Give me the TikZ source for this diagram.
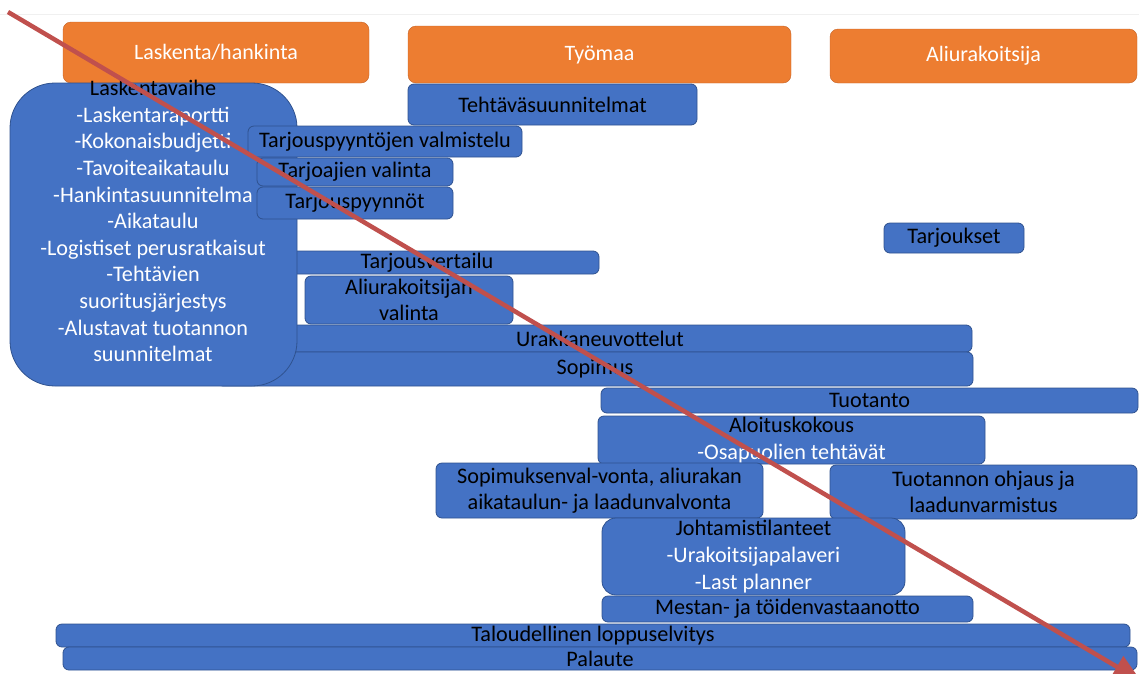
\documentclass[tikz,border=0pt]{standalone}
\usepackage{fontspec}
\setmainfont{Carlito}
\usepackage{xcolor}
\usepackage{tikz}
\usetikzlibrary{arrows.meta}

\definecolor{orfill}{RGB}{237,125,49}
\definecolor{orline}{RGB}{196,98,38}
\definecolor{blfill}{RGB}{68,114,196}
\definecolor{blline}{RGB}{47,82,143}
\definecolor{nuolipun}{RGB}{192,80,77}

\begin{document}
\begin{tikzpicture}[x=1pt, y=-1pt,
  head/.style={rectangle, rounded corners=8pt, draw=orline, fill=orfill, text=white, inner sep=0pt, font=\fontsize{22}{26}\selectfont},
  task/.style={rectangle, rounded corners=6pt, draw=blline, line width=0.8pt, fill=blfill, inner sep=0pt, align=center, font=\fontsize{22.2}{26.6}\selectfont},
  lista/.style={align=center, text=white, inner sep=0pt, font=\fontsize{22.2}{26.6}\selectfont},
  nuoli/.style={line width=4.5pt, draw=nuolipun, -{Triangle[length=28pt, width=24pt]}}
]
  \useasboundingbox (0,0) rectangle (1139,673);
  \coordinate (reunaA) at (0,14);
  \coordinate (reunaB) at (1139,14);
  \draw[gray!12, line width=0.8pt] (reunaA) -- (reunaB);

  % otsikot
  \node[head, minimum width=306pt, minimum height=61pt] (laskenta) at (216,52.5) {Laskenta/hankinta};
  \node[head, minimum width=383pt, minimum height=57pt] (tyomaa) at (599.5,54.5) {Työmaa};
  \node[head, minimum width=307pt, minimum height=54pt] (aliur) at (983.5,56) {Aliurakoitsija};

  % pitkät palkit iso laatikon alla
  \node[task, minimum width=344pt, minimum height=23pt] (tvert) at (427,262.5) {Tarjousvertailu};
  \node[task, minimum width=744pt, minimum height=27pt] (uneuv) at (600,338.5) {Urakkaneuvottelut};
  \node[task, minimum width=756pt, minimum height=34pt] (sopim) at (595,369) {Sopimus};

  % laskentavaihe
  \node[task, rounded corners=45pt, minimum width=287pt, minimum height=303pt] (lvaihe) at (153.5,234.5) {};
  \node[lista] (lvteksti) at (153,221) {\textcolor{black}{Laskentavaihe}\\-Laskentaraportti\\-Kokonaisbudjetti\\-Tavoiteaikataulu\\-Hankintasuunnitelma\\-Aikataulu\\-Logistiset perusratkaisut\\-Tehtävien\\suoritusjärjestys\\-Alustavat tuotannon\\suunnitelmat};

  % hankinta
  \node[task, minimum width=289pt, minimum height=41pt] (tsuun) at (552.5,104.5) {Tehtäväsuunnitelmat};
  \node[task, minimum width=274pt, minimum height=31pt] (tvalm) at (385,141.5) {Tarjouspyyntöjen valmistelu};
  \node[task, minimum width=196pt, minimum height=28pt] (tvalin) at (355,172) {Tarjoajien valinta};
  \node[task, minimum width=196pt, minimum height=32pt] (tpyyn) at (355,203) {Tarjouspyynnöt};
  \node[task, minimum width=140pt, minimum height=30pt] (tjouk) at (954,238) {Tarjoukset};
  \node[task, minimum width=208pt, minimum height=48pt] (avalin) at (409,300) {Aliurakoitsijan\\valinta};

  % tuotanto
  \node[task, minimum width=537pt, minimum height=25pt] (tuot) at (869.5,400.5) {Tuotanto};
  \node[task, minimum width=387pt, minimum height=48pt] (aloit) at (791.5,440) {Aloituskokous\\\textcolor{white}{-Osapuolien tehtävät}};
  \node[task, minimum width=327pt, minimum height=55pt] (svalv) at (599.5,490.5) {Sopimuksenval-vonta, aliurakan\\aikataulun- ja laadunvalvonta};
  \node[task, minimum width=307pt, minimum height=54pt] (tohj) at (983.5,492) {Tuotannon ohjaus ja\\laadunvarmistus};
  \node[task, rounded corners=14pt, minimum width=303pt, minimum height=77pt] (johto) at (753.5,556.5) {Johtamistilanteet\\\textcolor{white}{-Urakoitsijapalaveri}\\\textcolor{white}{-Last planner}};
  \node[task, minimum width=371pt, minimum height=26pt] (mestan) at (787.5,609) {Mestan- ja töidenvastaanotto};
  \node[task, minimum width=1074pt, minimum height=23pt] (talous) at (593,635.5) {Taloudellinen loppuselvitys};
  \node[task, minimum width=1074pt, minimum height=23pt] (palaute) at (600,658.5) {Palaute};

  % nuoli
  \coordinate (nuoliA) at (8,12);
  \coordinate (nuoliB) at (1141,681);
  \draw[nuoli] (nuoliA) -- (nuoliB);
\end{tikzpicture}
\end{document}
